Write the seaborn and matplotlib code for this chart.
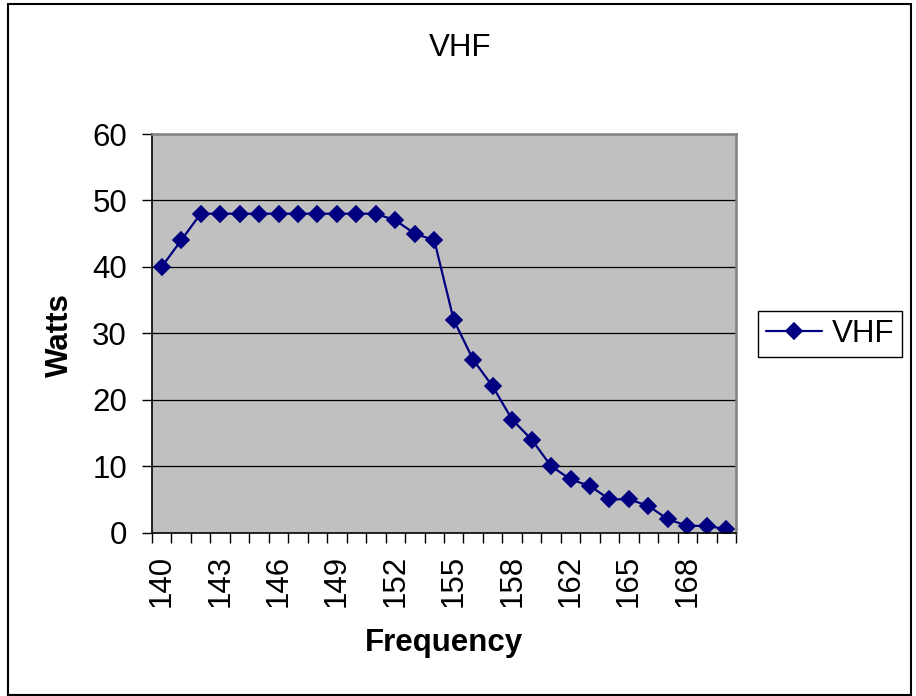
import numpy as np
import pandas as pd
import matplotlib
matplotlib.use("Agg")
import matplotlib.pyplot as plt
from matplotlib.patches import Rectangle
import seaborn as sns

# ---------- DATA ----------
freqs = [140, 141, 142, 143, 144, 145, 146, 147, 148, 149,
         150, 151, 152, 153, 154, 155, 156, 157, 158, 159,
         160, 162, 163, 164, 165, 166, 167, 168, 169, 170]
watts = [40, 44, 48, 48, 48, 48, 48, 48, 48, 48,
         48, 48, 47, 45, 44, 32, 26, 22, 17, 14,
         10, 8, 7, 5, 5, 4, 2, 1, 1, 0.5]
y_ticks = [0, 10, 20, 30, 40, 50, 60]
series_name = "VHF"

df = pd.DataFrame({"freq": [str(f) for f in freqs], "watts": watts})

# ---------- STYLE ----------
sns.set_theme(style="white")
plt.rcParams["font.family"] = ["Liberation Sans", "DejaVu Sans"]
plt.rcParams["text.color"] = "black"
plt.rcParams["xtick.color"] = "black"
plt.rcParams["ytick.color"] = "black"
FS = 22.5
NAVY = "#000080"

W, H = 916, 696
fig = plt.figure(figsize=(W / 100, H / 100), dpi=100)
ax = fig.add_axes([152 / W, 1 - 532.5 / H, 584 / W, 398.5 / H])

sns.pointplot(data=df, x="freq", y="watts", color=NAVY, markers="D",
              errorbar=None, markersize=8, linewidth=1.6, ax=ax)
for ln in ax.lines:
    ln.set_markeredgecolor(NAVY)

ax.set_facecolor("#C0C0C0")
ax.set_xlim(-0.5, len(freqs) - 0.5)
ax.set_ylim(0, 60)
ax.set_yticks(y_ticks)
ax.set_yticklabels([str(v) for v in y_ticks], fontsize=FS, color="black")
ax.grid(False)
for v in y_ticks[1:-1]:
    ax.axhline(v, color="black", lw=0.9, zorder=0.5)

# category labels every third, tick marks between categories
pos = list(range(0, len(freqs), 3))
ax.set_xticks(pos)
ax.set_xticklabels([df["freq"][i] for i in pos], rotation=90, fontsize=FS, color="black")
ax.set_xticks(np.arange(-0.5, len(freqs), 1), minor=True)
ax.tick_params(axis="x", which="major", length=0, pad=16)
ax.tick_params(axis="x", which="minor", length=7, width=1, color="black", direction="out", bottom=True)
ax.tick_params(axis="y", which="major", length=7, width=1, color="black", direction="out", pad=11, left=True)
ax.set_xlabel("")
ax.set_ylabel("")

for side in ["left", "bottom"]:
    ax.spines[side].set_color("black")
    ax.spines[side].set_linewidth(1.2)
for side in ["top", "right"]:
    ax.spines[side].set_color("#808080")
    ax.spines[side].set_linewidth(1.8)

# ---------- TEXT ----------
fig.text(460 / W, 1 - 56 / H, "VHF", fontsize=FS, ha="center", va="baseline")
fig.text(444 / W, 1 - 651 / H, "Frequency", fontsize=FS, fontweight="bold",
         ha="center", va="baseline")
fig.text(68 / W, 1 - 335 / H, "Watts", fontsize=FS, fontweight="bold",
         rotation=90, rotation_mode="anchor", ha="center", va="baseline")

# ---------- LEGEND ----------
leg = ax.legend([ax.lines[0]], [series_name], loc="center left",
                bbox_to_anchor=(758 / W, 1 - 334 / H), bbox_transform=fig.transFigure,
                fontsize=FS, frameon=True, fancybox=False, framealpha=1,
                edgecolor="black", borderpad=0.25, handlelength=1.8,
                handletextpad=0.3, borderaxespad=0)
leg.get_frame().set_linewidth(1.0)
for t in leg.get_texts():
    t.set_color("black")

# outer chart border
fig.patches.append(Rectangle((8 / W, 1 - 695 / H), 903 / W, 691 / H,
                             transform=fig.transFigure, fill=False,
                             edgecolor="black", linewidth=1.5))

fig.savefig("out.png", dpi=100)
